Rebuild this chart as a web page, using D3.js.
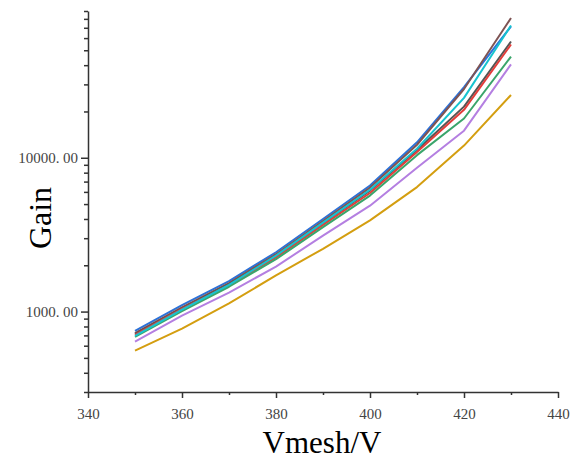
<!DOCTYPE html>
<html>
<head>
<meta charset="utf-8">
<script src="https://cdn.jsdelivr.net/npm/d3@7"></script>
<style>
  html, body { margin: 0; padding: 0; background: #fff; }
  svg { display: block; }
</style>
</head>
<body>
<svg id="chart" width="571" height="461"></svg>
<script>
// Mesh voltage (V) at which each gain curve was measured
const vmesh = [350, 360, 370, 380, 390, 400, 410, 420, 430];

// Gain curves, one per detector run
const gainBlue   = [750, 1100, 1580, 2430, 4000, 6600, 12600, 28800, 71500];
const gainBrown  = [725, 1065, 1530, 2360, 3880, 6400, 12150, 28000, 81000];
const gainCyan   = [695, 1030, 1490, 2310, 3790, 6200, 11450, 24500, 72500];
const gainGray   = [716, 1050, 1510, 2290, 3750, 6120, 11250, 21500, 57000];
const gainRed    = [706, 1040, 1480, 2250, 3660, 5900, 10900, 20500, 54500];
const gainGreen  = [685, 1005, 1450, 2190, 3540, 5680, 10400, 18000, 45500];
const gainPurple = [638, 940, 1330, 1960, 3120, 4880, 8600, 15000, 40500];
const gainGold   = [558, 775, 1130, 1720, 2560, 3920, 6450, 12000, 25600];

// Axis ticks
const xMajorTicks = [340, 360, 380, 400, 420, 440];
const xMinorTicks = [350, 370, 390, 410, 430];
const yMajorTicks = [1000, 10000];

const series = [
  { values: gainBlue,   color: "#2b72d9" },
  { values: gainBrown,  color: "#7e5353" },
  { values: gainGray,   color: "#555555" },
  { values: gainRed,    color: "#e33d3a" },
  { values: gainGreen,  color: "#3aa56b" },
  { values: gainCyan,   color: "#17c3cf" },
  { values: gainPurple, color: "#b47fe1" },
  { values: gainGold,   color: "#d49e10" }
];

const svg = d3.select("#chart");
const axisColor = "#333";
const tickTextColor = "#444";
const serif = "'Liberation Serif', 'DejaVu Serif', serif";

const x = d3.scaleLinear().domain([340, 440]).range([88, 558]);
const y = d3.scaleLog().domain([300, 90000]).range([392, 11]);

// Lines
const line = d3.line()
  .x((d, i) => x(vmesh[i]))
  .y(d => y(d));

svg.append("g")
  .selectAll("path")
  .data(series)
  .join("path")
  .attr("d", s => line(s.values))
  .attr("fill", "none")
  .attr("stroke", s => s.color)
  .attr("stroke-width", 2)
  .attr("stroke-linejoin", "round");

// X axis: minor ticks then major ticks with labels
const xAxisG = svg.append("g").attr("transform", `translate(0,${y.range()[0]})`);
xAxisG.append("g")
  .call(d3.axisBottom(x).tickValues(xMinorTicks).tickSize(3).tickFormat(""))
  .call(g => g.select(".domain").remove());
xAxisG.append("g")
  .call(d3.axisBottom(x).tickValues(xMajorTicks).tickSize(6).tickSizeOuter(0).tickPadding(10).tickFormat(d3.format("d")))
  .call(g => g.selectAll("text").attr("font-size", 15).attr("font-family", serif).attr("fill", tickTextColor));
xAxisG.selectAll("path, line").attr("stroke", axisColor).attr("stroke-width", 1.5);

// Y axis: log minor ticks then labelled decades
const yMinorTicks = y.ticks().filter(v => !yMajorTicks.includes(v));
const yAxisG = svg.append("g").attr("transform", `translate(${x.range()[0]},0)`);
yAxisG.append("g")
  .call(d3.axisLeft(y).tickValues(yMinorTicks).tickSize(4).tickFormat(""))
  .call(g => g.select(".domain").remove());
yAxisG.append("g")
  .call(d3.axisLeft(y).tickValues(yMajorTicks).tickSize(7).tickSizeOuter(0).tickPadding(3).tickFormat(""))
  .call(g => g.selectAll(".tick").each(function(d) {
    const parts = d3.format(".2f")(d).split(".");
    const t = d3.select(this).append("text")
      .attr("x", -10).attr("dy", "0.32em")
      .attr("text-anchor", "end")
      .attr("font-size", 15).attr("font-family", serif).attr("fill", tickTextColor);
    t.append("tspan").text(parts[0] + ".");
    t.append("tspan").attr("dx", 3.5).text(parts[1]);
  }));
yAxisG.selectAll("path, line").attr("stroke", axisColor).attr("stroke-width", 1.5);

// Axis titles
svg.append("text")
  .attr("x", 322).attr("y", 453)
  .attr("text-anchor", "middle")
  .attr("font-family", serif).attr("font-size", 31).attr("fill", "#000")
  .text("Vmesh/V");

svg.append("text")
  .attr("transform", "translate(51,218) rotate(-90)")
  .attr("text-anchor", "middle")
  .attr("font-family", serif).attr("font-size", 32).attr("fill", "#000")
  .text("Gain");
</script>
</body>
</html>
